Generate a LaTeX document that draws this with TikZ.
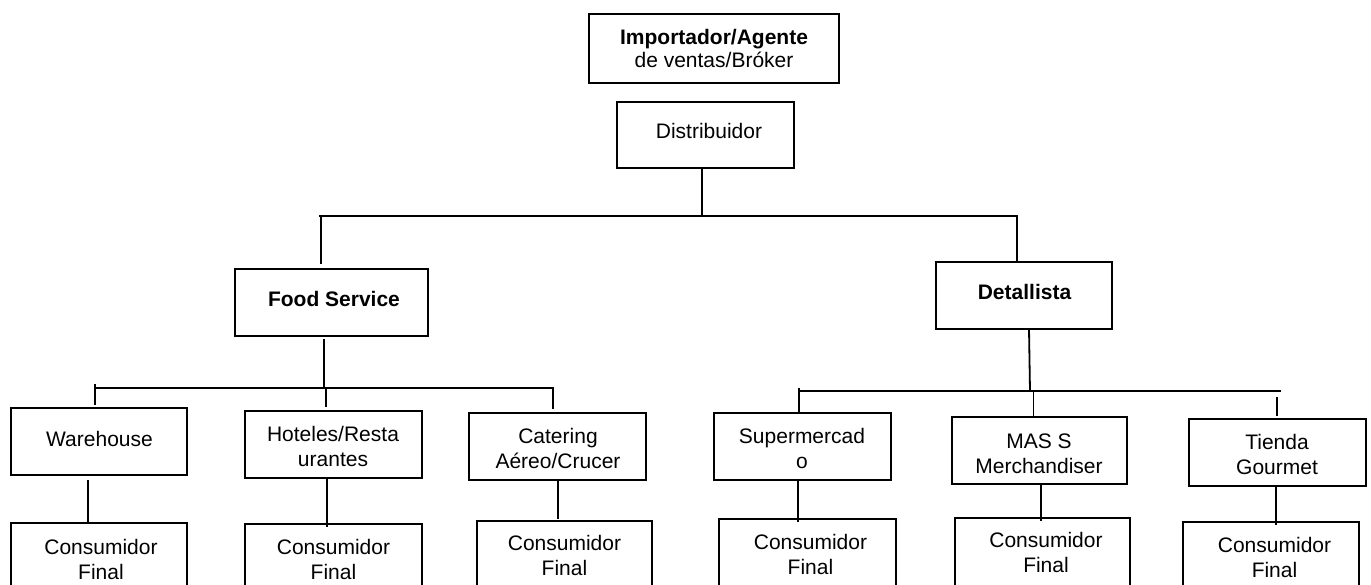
\documentclass[tikz,border=0pt]{standalone}
\usepackage{fontspec}
\setmainfont{Liberation Sans}
\begin{document}
\begin{tikzpicture}[x=1pt,y=-1pt,
  line width=1.8pt,
  box/.style={draw=black, line width=1.8pt, rectangle, inner sep=0pt, outer sep=0pt},
  lbl/.style={inner sep=0pt, outer sep=0pt, align=center, anchor=base,
              font=\fontsize{21}{24.5}\selectfont},
  boldlbl/.style={lbl, font=\fontsize{21}{23}\selectfont\bfseries},
  wire/.style={draw=black, line width=1.8pt}]
\useasboundingbox (0,0) rectangle (1371,585);
\clip (0,0) rectangle (1371,585);

% --- boxes ---------------------------------------------------------
\node[box, minimum width=250pt, minimum height=69pt] (imp)  at (714,48.5)   {};
\node[box, minimum width=177pt, minimum height=66pt] (dist) at (705.5,135)  {};
\node[box, minimum width=193pt, minimum height=67pt] (food) at (331.5,302.5){};
\node[box, minimum width=176pt, minimum height=67pt] (det)  at (1024,295.5) {};

\node[box, minimum width=176pt, minimum height=67pt] (wh) at (99,441.5)    {};
\node[box, minimum width=177pt, minimum height=67pt] (ho) at (333.5,444.5) {};
\node[box, minimum width=177pt, minimum height=67pt] (ca) at (557.5,446.5) {};
\node[box, minimum width=177pt, minimum height=67pt] (su) at (802.5,446.5) {};
\node[box, minimum width=175pt, minimum height=67pt] (ma) at (1039.5,450.5){};
\node[box, minimum width=177pt, minimum height=67pt] (ti) at (1277.5,452.5){};

\node[box, anchor=north, minimum width=176pt, minimum height=100pt] (c1) at (99,523)    {};
\node[box, anchor=north, minimum width=177pt, minimum height=100pt] (c2) at (333.5,524) {};
\node[box, anchor=north, minimum width=175pt, minimum height=100pt] (c3) at (564.5,521) {};
\node[box, anchor=north, minimum width=177pt, minimum height=100pt] (c4) at (807.5,519) {};
\node[box, anchor=north, minimum width=175pt, minimum height=100pt] (c5) at (1042.5,518){};
\node[box, anchor=north, minimum width=176pt, minimum height=100pt] (c6) at (1271,522)   {};

% --- texts (two-line labels sit on the baseline of their last line) --
\node[boldlbl] (t-imp) at (714,68) {Importador/Agente\\\mdseries de ventas/Bróker};
\node[lbl] (t-dist) at (709,139) {Distribuidor};
\node[boldlbl] (t-food) at (334,307) {Food Service};
\node[boldlbl] (t-det) at (1024.5,300) {Detallista};

\node[lbl] (t-wh) at (99.5,446) {Warehouse};
\node[lbl] (t-ho) at (333,466) {Hoteles/Resta\\urantes};
\node[lbl] (t-ca) at (558,468) {Catering\\Aéreo/Crucer};
\node[lbl] (t-su) at (802,468) {Supermercad\\o};
\node[lbl] (t-ma) at (1039,473) {MAS S\\Merchandiser};
\node[lbl] (t-ti) at (1277,474) {Tienda\\Gourmet};

\node[lbl] (t-c1) at (101,579)    {Consumidor\\Final};
\node[lbl] (t-c2) at (333.5,579)  {Consumidor\\Final};
\node[lbl] (t-c3) at (564.5,575)  {Consumidor\\Final};
\node[lbl] (t-c4) at (810.5,574)  {Consumidor\\Final};
\node[lbl] (t-c5) at (1046,572)   {Consumidor\\Final};
\node[lbl] (t-c6) at (1274.5,577) {Consumidor\\Final};

% --- bus lines -----------------------------------------------------
\coordinate (busA-l) at (319,216);
\coordinate (busA-r) at (1018,216);
\coordinate (busB-l) at (95,388);
\coordinate (busB-r) at (554,388);
\coordinate (busC-l) at (798,391);
\coordinate (busC-r) at (1281,391);
\draw[wire] (busA-l) -- (busA-r);
\draw[wire] (busB-l) -- (busB-r);
\draw[wire] (busC-l) -- (busC-r);

% --- top level -----------------------------------------------------
\draw[wire] ([xshift=-3.5pt]dist.south) -- ([xshift=-3.5pt]dist.south |- busA-l);
\draw[wire] ([xshift=-10.5pt]food.north |- busA-l) -- ([xshift=-10.5pt,yshift=5pt]food.north);
\draw[wire] ([xshift=-7pt]det.north |- busA-l) -- ([xshift=-7pt]det.north);

% --- Food Service branch -------------------------------------------
\draw[wire] ([xshift=-7.5pt,yshift=-3pt]food.south) -- ([xshift=-7.5pt]food.south |- busB-l);
\draw[wire] ([xshift=-4pt,yshift=4pt]wh.north |- busB-l) -- ([xshift=-4pt,yshift=3pt]wh.north);
\draw[wire] ([xshift=-7.5pt]ho.north |- busB-l) -- ([xshift=-7.5pt,yshift=4pt]ho.north);
\draw[wire] ([xshift=-4.5pt]ca.north |- busB-l) -- ([xshift=-4.5pt,yshift=4pt]ca.north);

% --- Detallista branch ---------------------------------------------
\draw[wire] ([xshift=5pt]det.south) -- ([xshift=6pt]det.south |- busC-l);
\draw[wire] ([xshift=-3.5pt,yshift=3pt]su.north |- busC-l) -- ([xshift=-3.5pt]su.north);
\draw[wire] ([xshift=-6pt]ma.north |- busC-l) -- ([xshift=-6pt]ma.north);
\draw[wire] ([xshift=-0.5pt,yshift=-6pt]ti.north |- busC-l) -- ([xshift=-0.5pt,yshift=3pt]ti.north);

% --- to final consumers --------------------------------------------
\draw[wire] ([xshift=-11pt,yshift=-5pt]wh.south) -- ([xshift=-11pt]wh.south |- c1.north);
\draw[wire] ([xshift=-6.5pt]ho.south) -- ([xshift=-6.5pt,yshift=-3pt]ho.south |- c2.north);
\draw[wire] ([xshift=0.5pt]ca.south) -- ([xshift=0.5pt,yshift=2pt]ca.south |- c3.north);
\draw[wire] ([xshift=-4.5pt]su.south) -- ([xshift=-4.5pt,yshift=-3pt]su.south |- c4.north);
\draw[wire] ([xshift=1.5pt]ma.south) -- ([xshift=1.5pt,yshift=-3pt]ma.south |- c5.north);
\draw[wire] ([xshift=-1.5pt]ti.south) -- ([xshift=-1.5pt,yshift=-3pt]ti.south |- c6.north);
\end{tikzpicture}
\end{document}
